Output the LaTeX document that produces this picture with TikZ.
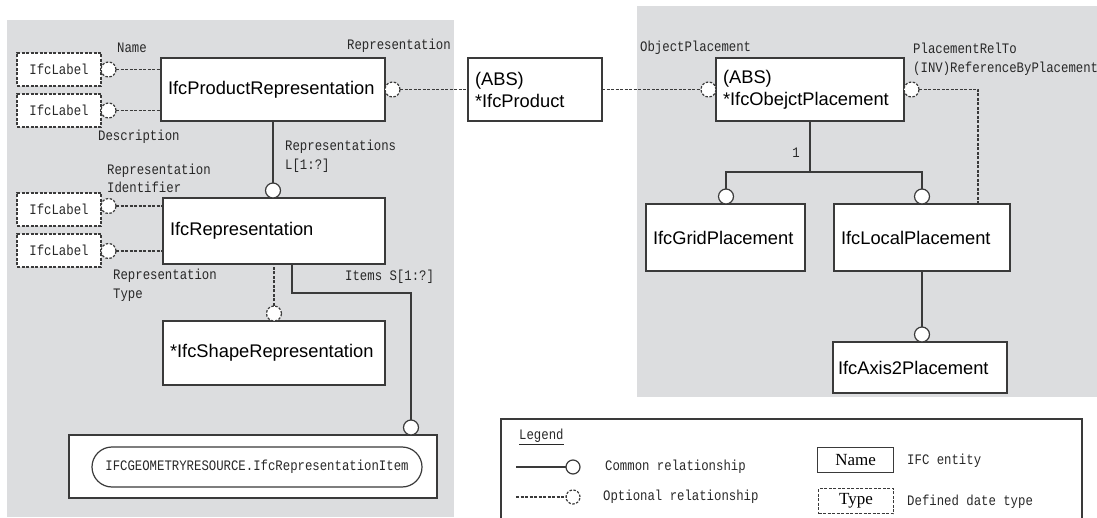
\documentclass[tikz,border=0pt]{standalone}
\usepackage{fontspec}
\setmainfont{Liberation Serif}
\newfontfamily\entfont{Liberation Sans}
\newfontfamily\lblfont[FakeStretch=0.85]{Liberation Mono}
\definecolor{panel}{RGB}{220,221,223}
\definecolor{lc}{RGB}{58,58,58}
\definecolor{tc}{RGB}{40,40,40}
\begin{document}
\begin{tikzpicture}[x=1pt,y=-1pt,
  rel/.style={draw=lc, line width=1.2pt},
  opt/.style={draw=lc, line width=1.2pt, dash pattern=on 3pt off 1.5pt},
  ent/.style={draw=lc, fill=white, line width=1.3pt, anchor=north west, inner xsep=7pt, inner ysep=0pt, outer sep=0pt, align=left, font=\entfont\fontsize{18.3}{22}\selectfont},
  typ/.style={draw=lc, fill=white, line width=1.2pt, dash pattern=on 3pt off 1.5pt, anchor=north west, inner sep=0pt, outer sep=0pt, minimum width=84pt, minimum height=33pt, font=\lblfont\fontsize{14.5}{15}\selectfont, text=tc},
  cir/.style={circle, draw=lc, fill=white, line width=1.2pt, minimum size=15pt, inner sep=0pt, outer sep=0pt},
  ocir/.style={cir, dash pattern=on 2.5pt off 1.5pt},
  lbl/.style={font=\lblfont\fontsize{14.5}{18.5}\selectfont, text=tc, inner sep=0pt, anchor=west, align=left},
]
\useasboundingbox (0,0) rectangle (1097,518);
% panels
\fill[panel] (7,20) rectangle (454,517);
\fill[panel] (637,6) rectangle (1097,397);

% ---------- left part ----------
\node[ent, minimum height=63pt, text width=210pt] (ipr) at (161,58) {IfcProductRepresentation};
\node[typ] (lab1) at (17,53) {IfcLabel};
\node[typ] (lab2) at (17,94) {IfcLabel};
\node[ocir] (cname) at (108.5,69.5) {};
\node[ocir] (cdesc) at (108.5,110.5) {};
\draw[opt] (cname.east) -- (cname.east -| ipr.west);
\draw[opt] (cdesc.east) -- (cdesc.east -| ipr.west);
\node[lbl] (tname) at (117,48) {Name};
\node[lbl] (tdesc) at (98,137) {Description};
\node[lbl] (trep) at (347,46) {Representation};

\node[ocir] (ciprr) at (392.5,89.5) {};

\node[ent, minimum height=66pt, text width=208pt] (rep) at (163,198) {IfcRepresentation};
\node[cir] (creps) at (273,190.5) {};
\draw[rel] (creps.north) -- (creps.north |- ipr.south);
\node[lbl] (treps) at (285,156.5) {Representations\\L[1:?]};

\node[typ] (lab3) at (17,193) {IfcLabel};
\node[typ] (lab4) at (17,234) {IfcLabel};
\node[ocir] (cid) at (108.5,206) {};
\node[ocir] (ctype) at (108.5,251) {};
\draw[opt] (cid.east) -- (cid.east -| rep.west);
\draw[opt] (ctype.east) -- (ctype.east -| rep.west);
\node[lbl] (tid) at (107,178.5) {Representation\\Identifier};
\node[lbl] (ttype) at (113,285.5) {Representation\\Type};

\node[ent, minimum height=64pt, text width=208pt] (shape) at (163,321) {*IfcShapeRepresentation};
\node[ocir] (cshape) at (274,313.5) {};
\draw[opt] (cshape.north) -- (cshape.north |- rep.south);

\node[draw=lc, fill=white, line width=1.3pt, anchor=north west, minimum width=368pt, minimum height=63pt, inner sep=0pt, outer sep=0pt] (itembox) at (69,435) {};
\node[draw=lc, line width=1.2pt, rounded corners=20pt, minimum width=330pt, minimum height=40pt, inner sep=0pt, font=\lblfont\fontsize{14.5}{15}\selectfont, text=tc] (pill) at (257,467) {IFCGEOMETRYRESOURCE.IfcRepresentationItem};
\node[cir] (citems) at (411,427.5) {};
\draw[rel] ([xshift=18pt]rep.south) -- ++(0,29) -| (citems.north);
\node[lbl] (titems) at (345,277) {Items S[1:?]};

% ---------- middle / right ----------
\node[ent, minimum height=63pt, text width=120pt] (prod) at (468,58) {(ABS)\\{*}IfcProduct};
\draw[opt] (ciprr.east) -- (ciprr.east -| prod.west);

\node[ent, minimum height=63pt, text width=174pt] (objpl) at (716,58) {(ABS)\\{*}IfcObejctPlacement};
\node[ocir] (cop) at (708.5,89.5) {};
\draw[opt] (prod.east) -- (cop.west);
\node[lbl] (top) at (640,48) {ObjectPlacement};
\node[ocir] (crel) at (911.5,89.5) {};
\node[lbl] (trel) at (913,59.5) {PlacementRelTo\\(INV)ReferenceByPlacement};

\node[ent, minimum height=67pt, text width=145pt] (grid) at (646,204) {IfcGridPlacement};
\node[ent, minimum height=67pt, text width=162pt] (local) at (834,204) {IfcLocalPlacement};
\node[cir] (cgrid) at (726,196.5) {};
\node[cir] (clocal) at (922,196.5) {};
\draw[rel] (objpl.south) -- ++(0,51) coordinate (jn);
\draw[rel] (cgrid.north) |- (jn) -| (clocal.north);
\node[lbl, anchor=center] (tone) at (796,153) {1};
\draw[opt] (crel.east) -| ([xshift=56pt]local.north);

\node[ent, minimum height=51pt, text width=164pt, inner xsep=5pt] (axis) at (833,342) {IfcAxis2Placement};
\node[cir] (caxis) at (922,334.5) {};
\draw[rel] (caxis.north) -- (caxis.north |- local.south);

% ---------- legend ----------
\node[draw=lc, line width=1.2pt, anchor=north west, minimum width=581pt, minimum height=110pt, inner sep=0pt, outer sep=0pt] (legend) at (501,419) {};
\node[lbl] (tleg) at (519,437) {\underline{Legend}};
\coordinate (l1) at (516,467);
\coordinate (l2) at (516,497);
\node[cir, minimum size=14pt] (lc1) at (573,467) {};
\node[ocir, minimum size=14pt] (lc2) at (573,497) {};
\draw[rel] (l1) -- (lc1.west);
\draw[opt] (l2) -- (lc2.west);
\node[lbl] (tcom) at (605,467) {Common relationship};
\node[lbl] (topt) at (603,497) {Optional relationship};
\node[draw=lc, line width=1.2pt, anchor=north west, minimum width=76pt, minimum height=25pt, inner sep=0pt, font=\fontsize{17}{18}\selectfont] (lname) at (817,447) {Name};
\node[draw=lc, line width=1.2pt, dash pattern=on 3pt off 1.5pt, anchor=north west, minimum width=75pt, minimum height=25pt, inner sep=0pt, font=\fontsize{17}{18}\selectfont] (ltype) at (818,488) {Type};
\node[lbl] (tifc) at (907,461) {IFC entity};
\node[lbl] (tdef) at (907,502) {Defined date type};
\end{tikzpicture}
\end{document}
